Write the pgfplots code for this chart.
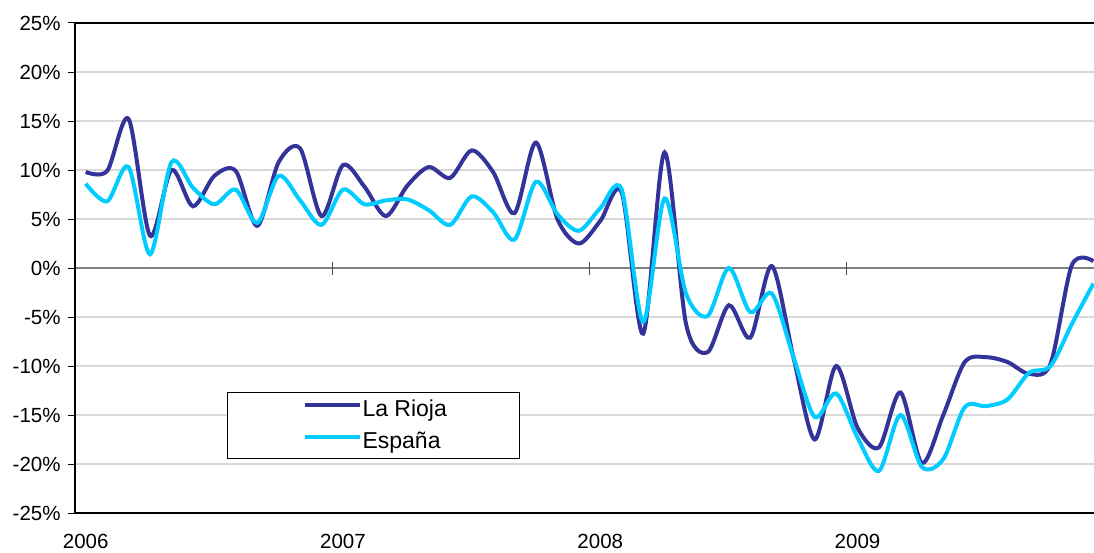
\documentclass[border=0pt]{standalone}
\usepackage{fontspec}
\setmainfont{Liberation Sans}
\usepackage{pgfplots}
\pgfplotsset{compat=1.18}
\definecolor{rioja}{RGB}{51,51,153}
\definecolor{espana}{RGB}{0,204,255}
\definecolor{gridgray}{RGB}{217,217,217}

% monthly year-on-year rate, Jan 2006 (0) .. Dec 2009 (47)
\pgfplotstableread{
m  rioja  espana
0   9.8    8.6
1   9.9    6.8
2  15.2   10.3
3   3.3    1.4
4  10.0   10.8
5   6.3    8.2
6   9.4    6.5
7   9.9    8.0
8   4.3    4.6
9  10.8    9.4
10 12.2    6.9
11  5.3    4.4
12 10.5    8.0
13  8.3    6.5
14  5.3    6.9
15  8.4    7.0
16 10.3    5.9
17  9.2    4.4
18 12.0    7.3
19  9.8    5.7
20  5.6    2.9
21 12.8    8.8
22  5.0    5.5
23  2.5    3.8
24  4.8    6.1
25  7.7    8.0
26 -6.7   -5.5
27 11.8    7.1
28 -5.7   -2.6
29 -8.6   -4.9
30 -3.8    0.0
31 -7.1   -4.5
32  0.2   -2.6
33 -9.0   -9.0
34 -17.5 -15.2
35 -10.0 -12.8
36 -16.3 -17.3
37 -18.3 -20.7
38 -12.7 -15.0
39 -19.9 -20.3
40 -15.0 -19.5
41 -9.6  -14.2
42 -9.1  -14.1
43 -9.6  -13.4
44 -10.8 -10.7
45 -9.8  -10.0
46  0.3   -5.7
47  0.7   -1.6
}\datatable

\begin{document}
\begin{tikzpicture}
\begin{axis}[
  name=ax,
  scale only axis, width=1019pt, height=490pt,
  xmin=-0.5, xmax=47.03, ymin=-25, ymax=25,
  axis line style={draw=none},
  xtick={0,12,24,36}, xticklabels={2006,2007,2008,2009},
  xtick style={draw=none, /pgfplots/major tick length=0pt},
  ytick={-25,-20,...,25},
  yticklabels={-25\%,-20\%,-15\%,-10\%,-5\%,0\%,5\%,10\%,15\%,20\%,25\%},
  ytick style={black, line width=1pt, /pgfplots/major tick length=7pt},
  ytick pos=left,
  tick align=outside,
  ymajorgrids, grid style={gridgray, line width=1.5pt},
  extra y ticks={0}, extra y tick labels={},
  extra y tick style={grid style={gray, line width=1.5pt}},
  ticklabel style={font=\fontsize{20.5}{24}\selectfont},
  yticklabel style={anchor=east, inner sep=0pt, xshift=-10pt},
  xticklabel style={anchor=north, inner sep=0pt, yshift=-17pt},
  legend style={
    at={(axis description cs:0.1493,0.1104)}, anchor=south west,
    draw=black, line width=0.8pt,
    inner xsep=0pt, inner ysep=6.5pt,
    row sep=11pt, column sep=1pt,
    font=\fontsize{23}{26}\selectfont,
    nodes={inner sep=0pt, text height=17pt, text depth=4pt},
  },
  legend cell align=left,
  legend image code/.code={
    \path (-75pt,0pt) (55pt,0pt);
    \draw[#1] (0pt,4.5pt) -- (55pt,4.5pt);
  },
]
\draw[black!70, line width=1.2pt] ([yshift=-6.5pt]axis cs:11.5,0) -- ([yshift=6.5pt]axis cs:11.5,0);
\draw[black!70, line width=1.2pt] ([yshift=-6.5pt]axis cs:23.5,0) -- ([yshift=6.5pt]axis cs:23.5,0);
\draw[black!70, line width=1.2pt] ([yshift=-6.5pt]axis cs:35.5,0) -- ([yshift=6.5pt]axis cs:35.5,0);
\addplot[rioja, line width=4pt, smooth, tension=0.5] table[x=m, y=rioja] {\datatable};
\addlegendentry{\makebox[157pt][l]{La Rioja}}
\addplot[espana, line width=4pt, smooth, tension=0.5] table[x=m, y=espana] {\datatable};
\addlegendentry{\makebox[157pt][l]{España}}
\end{axis}
\draw[black, line width=2.4pt] (ax.north east) -- (ax.north west) -- (ax.south west) -- (ax.south east);
\pgfresetboundingbox
\useasboundingbox ([shift={(-75pt,-39pt)}]ax.south west) rectangle ([shift={(0pt,23pt)}]ax.north east);
\end{tikzpicture}
\end{document}
